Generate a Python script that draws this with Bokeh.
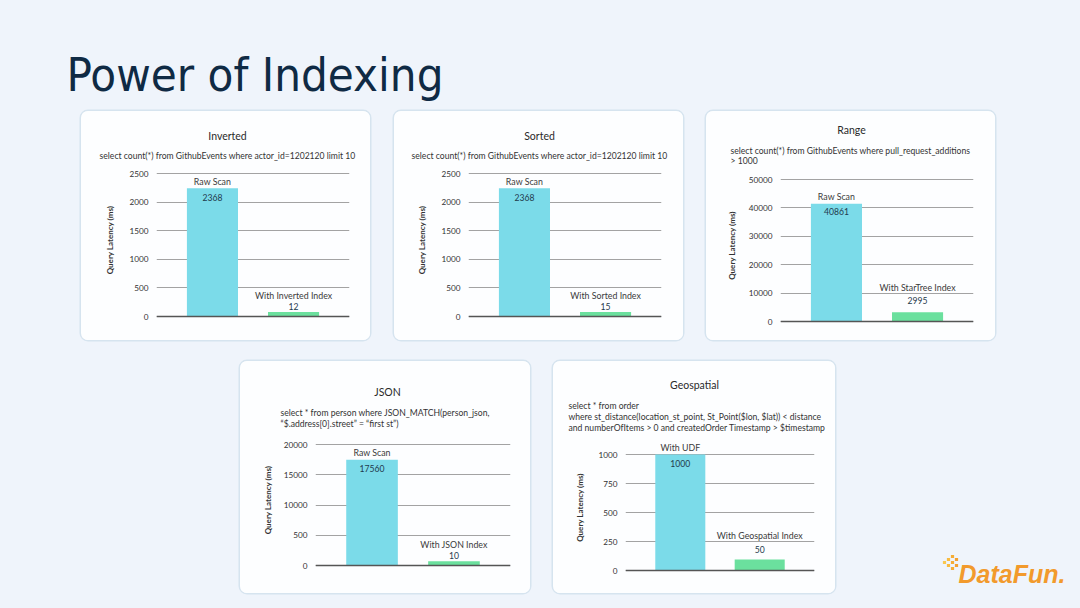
from bokeh.plotting import figure
from bokeh.models import (ColumnDataSource, FactorRange, Range1d, FixedTicker,
                          Span, Label, LabelSet, Spacer)
from bokeh.layouts import column, row
from bokeh.embed import file_html
from bokeh.resources import INLINE
from bokeh.core.properties import value

# ------------------------------------------------------------------ data
page_title = "Power of Indexing"

inverted_title = "Inverted"
inverted_query = ["select count(*) from GithubEvents where actor_id=1202120 limit 10"]
inverted_bars = ["Raw Scan", "With Inverted Index"]
inverted_heights = [2240, 80]
inverted_values = ["2368", "12"]
inverted_ticks = [0, 500, 1000, 1500, 2000, 2500]
inverted_tick_labels = ["0", "500", "1000", "1500", "2000", "2500"]

sorted_title = "Sorted"
sorted_query = ["select count(*) from GithubEvents where actor_id=1202120 limit 10"]
sorted_bars = ["Raw Scan", "With Sorted Index"]
sorted_heights = [2240, 80]
sorted_values = ["2368", "15"]
sorted_ticks = [0, 500, 1000, 1500, 2000, 2500]
sorted_tick_labels = ["0", "500", "1000", "1500", "2000", "2500"]

range_title = "Range"
range_query = ["select count(*) from GithubEvents where pull_request_additions",
               "> 1000"]
range_bars = ["Raw Scan", "With StarTree Index"]
range_heights = [41480, 3260]
range_values = ["40861", "2995"]
range_ticks = [0, 10000, 20000, 30000, 40000, 50000]
range_tick_labels = ["0", "10000", "20000", "30000", "40000", "50000"]

json_title = "JSON"
json_query = ["select * from person where JSON_MATCH(person_json,",
              "\u201c$.address[0].street\u201d = \u201cfirst st\u201d)"]
json_bars = ["Raw Scan", "With JSON Index"]
json_heights = [17470, 710]
json_values = ["17560", "10"]
json_ticks = [0, 5000, 10000, 15000, 20000]
json_tick_labels = ["0", "500", "10000", "15000", "20000"]

geo_title = "Geospatial"
geo_query = ["select * from order",
             "where st_distance(location_st_point, St_Point($lon, $lat)) < distance",
             "and numberOfItems > 0 and createdOrder Timestamp > $timestamp"]
geo_bars = ["With UDF", "With Geospatial Index"]
geo_heights = [1000, 95]
geo_values = ["1000", "50"]
geo_ticks = [0, 250, 500, 750, 1000]
geo_tick_labels = ["0", "250", "500", "750", "1000"]

y_axis_label = "Query Latency (ms)"
logo_text = "DataFun."

# ------------------------------------------------------------------ style
BG = "#eff4fb"
CARD = "#fdfeff"
RAW = "#7bdbe9"
IDX = "#6be09e"
FONT = "Lato"
TXT = "#333333"
HEAD_ROOM = 12   # px of frame kept above the top tick

LAYOUT = {
    "inverted": dict(size=(289, 229), frame=(75, 21, 62, 24), title_xy=(146, 24),
                     q_xy=(146, 44), q_align="center", q_step=10, q_size="8.6px",
                     name_off=[7, 16], val_off=[-9, 5], standoff=12),
    "sorted": dict(size=(289, 229), frame=(74, 22, 62, 24), title_xy=(145, 24),
                   q_xy=(145, 44), q_align="center", q_step=10, q_size="8.6px",
                   name_off=[7, 16], val_off=[-9, 5], standoff=12),
    "range": dict(size=(289, 229), frame=(74, 22, 68, 19), title_xy=(145, 18),
                  q_xy=(24, 39), q_align="left", q_step=10, q_size="8.6px",
                  name_off=[7, 25], val_off=[-8, 12], standoff=9),
    "json": dict(size=(290, 232), frame=(75, 20, 83, 28), title_xy=(147, 30),
                 q_xy=(40, 51), q_align="left", q_step=11, q_size="8.6px",
                 name_off=[7, 17], val_off=[-9, 6], standoff=8),
    "geo": dict(size=(282, 232), frame=(72, 21, 93, 23), title_xy=(141, 23),
                q_xy=(15, 44), q_align="left", q_step=11, q_size="8.6px",
                name_off=[7, 24], val_off=[-9, 10], standoff=11),
}


def blank(w, h, bg):
    f = figure(width=w, height=h, title=None, toolbar_location=None,
               output_backend="svg", x_range=Range1d(0, w), y_range=Range1d(0, h),
               x_axis_location=None, y_axis_location=None, min_border=0,
               background_fill_color=bg, border_fill_color=bg,
               outline_line_color=None)
    f.grid.visible = False
    f.frame_align = False
    return f


def make_card(title, query, bars, heights, values, ticks, tick_labels, lay):
    W, H = lay["size"]
    fl, fr, ft, fb = lay["frame"]
    hh = ft - HEAD_ROOM                 # header strip height
    fh = H - ft - fb                    # pixels between 0 and the top tick
    pad = 2
    ymax = ticks[-1]
    per_px = ymax / fh

    # header strip with the title and the query text
    head = blank(W, hh, CARD)
    cx, cy = lay["title_xy"]
    head.add_layout(Label(x=cx, y=hh - cy, x_units="screen", y_units="screen",
                          text=title, text_align="center", text_baseline="middle",
                          text_font=FONT, text_font_size="10.5px", text_color="#2a2a2a"))
    qx, qy = lay["q_xy"]
    for i, line in enumerate(query):
        head.add_layout(Label(x=qx, y=hh - (qy + i * lay["q_step"]),
                              x_units="screen", y_units="screen", text=line,
                              text_align=lay["q_align"], text_baseline="middle",
                              text_font=FONT, text_font_size=lay["q_size"],
                              text_color=TXT))

    # chart
    p = figure(width=W, height=H - hh, title=None, toolbar_location=None,
               output_backend="svg",
               x_range=FactorRange(factors=bars, range_padding=0.19,
                                   range_padding_units="absolute"),
               y_range=Range1d(-pad * per_px, ymax + HEAD_ROOM * per_px),
               x_axis_location=None,
               min_border_left=fl, min_border_right=fr,
               min_border_top=0, min_border_bottom=fb - pad,
               background_fill_color=CARD, border_fill_color=CARD,
               outline_line_color=None)
    p.frame_align = False
    p.xgrid.visible = False
    p.ygrid.grid_line_color = "#a3a3a3"
    p.ygrid.grid_line_width = 1
    ax = p.yaxis[0]
    ax.ticker = FixedTicker(ticks=ticks)
    ax.major_label_overrides = {t: s for t, s in zip(ticks, tick_labels)}
    ax.axis_line_color = None
    ax.major_tick_line_color = None
    ax.minor_tick_line_color = None
    ax.major_label_standoff = 2
    ax.major_label_text_font = FONT
    ax.major_label_text_font_size = "8.2px"
    ax.major_label_text_color = "#333333"
    ax.axis_label = y_axis_label
    ax.axis_label_text_font = FONT
    ax.axis_label_text_font_style = "bold"
    ax.axis_label_text_font_size = "8px"
    ax.axis_label_text_color = TXT
    ax.axis_label_standoff = lay["standoff"]

    src = ColumnDataSource(dict(cat=bars, height=heights, val=values,
                                color=[RAW, IDX], name_off=lay["name_off"],
                                val_off=lay["val_off"]))
    p.vbar(x="cat", top="height", width=0.63, color="color", line_color=None,
           source=src)
    p.add_layout(Span(location=0, dimension="width", line_color="#555555",
                      line_width=1.4))
    p.add_layout(LabelSet(x="cat", y="height", text="cat", y_offset="name_off",
                          source=src, text_align="center", text_baseline="middle",
                          text_font=value(FONT), text_font_size="8.8px",
                          text_color="#3a3a3a"))
    p.add_layout(LabelSet(x="cat", y="height", text="val", y_offset="val_off",
                          source=src, text_align="center", text_baseline="middle",
                          text_font=value(FONT), text_font_size="8.6px",
                          text_color="#1f3a4d"))

    return column(head, p, styles={"border-radius": "7px", "overflow": "hidden",
                                   "background-color": CARD,
                                   "box-shadow": "0 0 0 1.5px #d6e4ef"})


# title strip
tp = blank(1080, 111, BG)
tp.add_layout(Label(x=66, y=111 - 74, x_units="screen", y_units="screen",
                    text=page_title, text_font="DejaVu Sans Condensed",
                    text_font_size="47px", text_color="#0f2a44",
                    text_baseline="middle"))

# logo
lg = blank(145, 232, BG)
sq_x = [9, 13, 13, 17, 17, 17, 21, 21]
sq_y = [31, 28, 34, 25, 31, 37, 28, 34]
lg.scatter(x=sq_x, y=sq_y, marker="square", size=3.2,
           color=["#f9c74f", "#f8bb40", "#f8bb40", "#f6ad35", "#f6ad35",
                  "#f6ad35", "#f4a030", "#f4a030"], line_color=None)
lg.add_layout(Label(x=23, y=20, x_units="screen", y_units="screen", text=logo_text,
                    text_font="Liberation Sans", text_font_style="bold italic",
                    text_font_size="25px", text_color="#f29a2c",
                    text_baseline="alphabetic"))

c1 = make_card(inverted_title, inverted_query, inverted_bars, inverted_heights,
               inverted_values, inverted_ticks, inverted_tick_labels, LAYOUT["inverted"])
c2 = make_card(sorted_title, sorted_query, sorted_bars, sorted_heights,
               sorted_values, sorted_ticks, sorted_tick_labels, LAYOUT["sorted"])
c3 = make_card(range_title, range_query, range_bars, range_heights,
               range_values, range_ticks, range_tick_labels, LAYOUT["range"])
c4 = make_card(json_title, json_query, json_bars, json_heights,
               json_values, json_ticks, json_tick_labels, LAYOUT["json"])
c5 = make_card(geo_title, geo_query, geo_bars, geo_heights,
               geo_values, geo_ticks, geo_tick_labels, LAYOUT["geo"])

row1 = row(Spacer(width=81, height=229), c1, Spacer(width=24, height=229), c2,
           Spacer(width=23, height=229), c3, Spacer(width=85, height=229))
row2 = row(Spacer(width=240, height=232), c4, Spacer(width=23, height=232), c5,
           Spacer(width=100, height=232), lg)
page = column(tp, row1, Spacer(width=1080, height=21), row2,
              Spacer(width=1080, height=15),
              styles={"background-color": BG})

open("out.html", "w").write(file_html(page, INLINE))
